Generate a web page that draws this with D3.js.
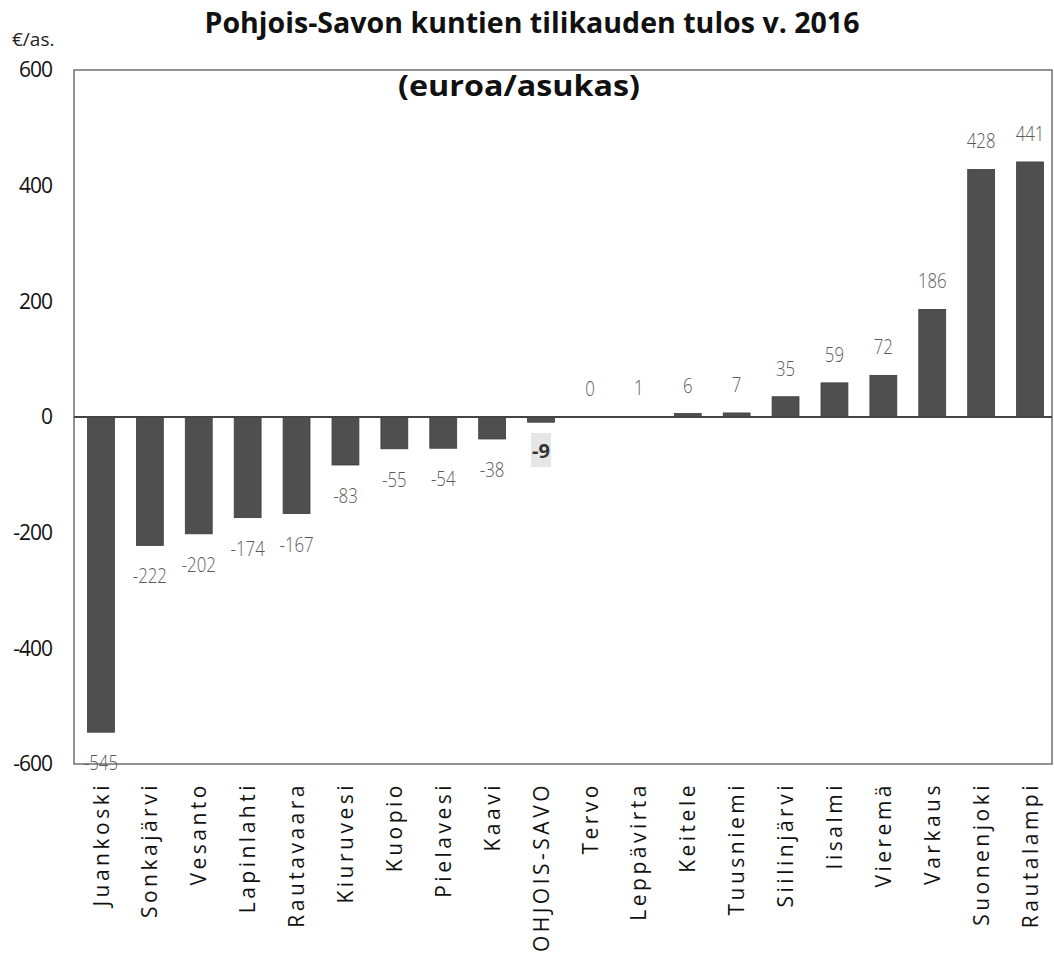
<!DOCTYPE html>
<html>
<head>
<meta charset="utf-8">
<script src="https://cdn.jsdelivr.net/npm/d3@7"></script>
<style>
  html, body { margin: 0; padding: 0; background: #fff; }
  svg { display: block; }
</style>
</head>
<body>
<svg id="chart" width="1054" height="953"></svg>
<script>
const categories = ["Juankoski","Sonkajärvi","Vesanto","Lapinlahti","Rautavaara","Kiuruvesi","Kuopio","Pielavesi","Kaavi","POHJOIS-SAVO","Tervo","Leppävirta","Keitele","Tuusniemi","Siilinjärvi","Iisalmi","Vieremä","Varkaus","Suonenjoki","Rautalampi"];
const values = [-545,-222,-202,-174,-167,-83,-55,-54,-38,-9,0,1,6,7,35,59,72,186,428,441];
const yTicks = [-600,-400,-200,0,200,400,600];
const titleText = "Pohjois-Savon kuntien tilikauden tulos v. 2016";
const subtitleText = "(euroa/asukas)";
const unitText = "€/as.";

(function () {
const svg = d3.select("#chart");
const pLeft = 74, pRight = 1052, pTop = 70, pBottom = 764;

const x = d3.scaleBand().domain(categories).range([76.5, 1054.5]).paddingInner(0.45).paddingOuter(0.225);
const y = d3.scaleLinear().domain([-600, 600]).range([pBottom, pTop]);

// frame
svg.append("rect").attr("x", pLeft).attr("y", pTop).attr("width", pRight - pLeft).attr("height", pBottom - pTop)
  .attr("fill", "none").attr("stroke", "#666").attr("stroke-width", 1.4);

// bars
svg.append("g").selectAll("rect").data(values).join("rect")
  .attr("x", (d, i) => x(categories[i]))
  .attr("width", x.bandwidth())
  .attr("y", d => y(Math.max(0, d)))
  .attr("height", d => Math.abs(y(d) - y(0)))
  .attr("fill", "#4f4f4f")
  .attr("stroke", "#3c3c3c")
  .attr("stroke-width", 0.8);

// zero line
svg.append("line").attr("x1", pLeft).attr("x2", pRight).attr("y1", y(0)).attr("y2", y(0))
  .attr("stroke", "#444").attr("stroke-width", 2);

// y axis labels
const yAxis = d3.axisLeft(y).tickValues(yTicks).tickSize(0).tickPadding(0).tickFormat(d => String(d));
const yg = svg.append("g").attr("transform", "translate(52,0)").call(yAxis);
yg.select(".domain").remove();
yg.selectAll("text").attr("font-family", "Open Sans").attr("font-size", 21).attr("fill", "#111")
  .attr("letter-spacing", "-1px");

// x axis labels
const xAxis = d3.axisBottom(x).tickSize(0).tickPadding(0);
const xg = svg.append("g").attr("transform", "translate(0,782)").call(xAxis);
xg.select(".domain").remove();
xg.selectAll("text")
  .attr("font-family", "Open Sans").attr("font-size", 21).attr("fill", "#111")
  .attr("letter-spacing", "3.5px")
  .attr("text-anchor", "end")
  .attr("transform", "rotate(-90)")
  .attr("x", 0).attr("y", 0).attr("dy", "0.36em");

// data labels
const lbl = svg.append("g");
values.forEach((d, i) => {
  const cx = x(categories[i]) + x.bandwidth() / 2;
  if (d === -9) {
    lbl.append("rect").attr("x", cx - 10).attr("y", y(0) + 16).attr("width", 20).attr("height", 34).attr("fill", "#e6e6e6");
    lbl.append("text").attr("x", cx).attr("y", y(0) + 41).attr("text-anchor", "middle")
      .attr("font-family", "Open Sans").attr("font-weight", 700).attr("font-size", 20).attr("fill", "#333")
      .text(d);
    return;
  }
  const ty = d >= 0 ? y(d) - 21 : y(d) + 38;
  lbl.append("text")
    .attr("transform", `translate(${cx},${ty}) scale(0.8,1)`)
    .attr("text-anchor", "middle")
    .attr("font-family", "Open Sans").attr("font-weight", 300).attr("font-size", 21).attr("fill", "#5a5a5a")
    .text(d);
});

// title & units
svg.append("text").attr("x", 532).attr("y", 33).attr("text-anchor", "middle")
  .attr("font-family", "Open Sans").attr("font-weight", 700).attr("font-size", 28).attr("fill", "#111")
  .attr("textLength", 655).attr("lengthAdjust", "spacingAndGlyphs")
  .text(titleText);
svg.append("text").attr("x", 519).attr("y", 96).attr("text-anchor", "middle")
  .attr("font-family", "Open Sans").attr("font-weight", 700).attr("font-size", 28).attr("fill", "#111")
  .attr("textLength", 242).attr("lengthAdjust", "spacingAndGlyphs")
  .text(subtitleText);
svg.append("text").attr("x", 12).attr("y", 46)
  .attr("font-family", "Open Sans").attr("font-size", 19).attr("fill", "#222")
  .text(unitText);
})();
</script>
</body>
</html>
